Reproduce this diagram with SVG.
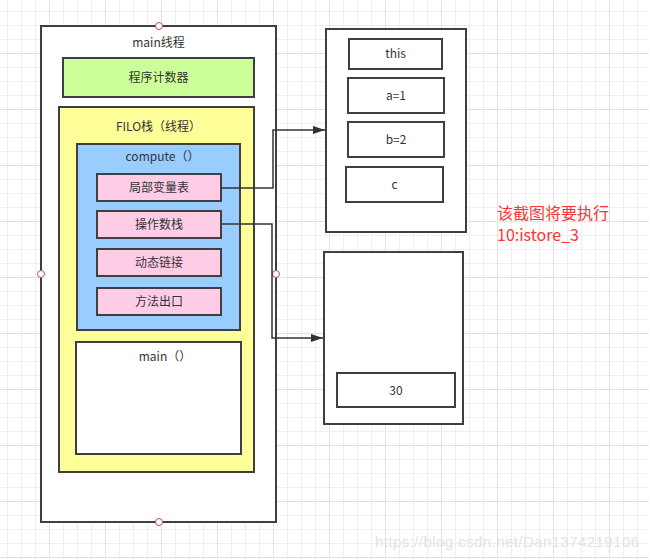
<svg xmlns="http://www.w3.org/2000/svg" width="649" height="559" viewBox="0 0 649 559">
<defs>
<pattern id="minor" x="7" y="-3" width="14" height="14" patternUnits="userSpaceOnUse">
<path d="M0.5 0V14M0 0.5H14" fill="none" stroke="#efefef" stroke-width="1"/>
</pattern>
<pattern id="major" x="49" y="-3" width="56" height="56" patternUnits="userSpaceOnUse">
<path d="M0.5 0V56M0 0.5H56" fill="none" stroke="#e2e2e2" stroke-width="1"/>
</pattern>
<marker id="arr" markerWidth="12" markerHeight="8" refX="12" refY="4" orient="auto" markerUnits="userSpaceOnUse">
<path d="M0 0L12 4L0 8Z" fill="#333"/>
</marker>
<style>
.box{stroke:#3f3f3f;stroke-width:2}
.t{font-family:"Noto Sans CJK SC","Microsoft YaHei",sans-serif;font-size:12px;fill:#333;text-anchor:middle}
.pt{fill:#fff;stroke:#b85450;stroke-width:1}
.conn{fill:none;stroke:#333;stroke-width:1.5}
.red{font-family:"Noto Sans CJK SC",sans-serif;font-size:16px;fill:#ff3333}
</style>
</defs>
<rect width="649" height="559" fill="#fff"/>
<rect width="649" height="559" fill="url(#minor)"/>
<rect width="649" height="559" fill="url(#major)"/>

<g id="main-thread">
<rect class="box" x="41" y="26" width="235" height="496" fill="#fff"/>
<text class="t" x="158.5" y="47">main线程</text>
</g>
<g id="pc">
<rect class="box" x="63" y="58" width="191" height="39" fill="#ccff99"/>
<text class="t" x="158.5" y="82">程序计数器</text>
</g>
<g id="filo">
<rect class="box" x="59" y="107" width="195" height="365" fill="#ffff99"/>
<text class="t" x="158.5" y="131">FILO栈（线程）</text>
</g>
<g id="compute">
<rect class="box" x="77" y="144" width="163" height="186" fill="#99ccff"/>
<text class="t" x="162.5" y="161">compute（）</text>
</g>
<g id="local-vars">
<rect class="box" x="97" y="174" width="124" height="27" fill="#ffcce6"/>
<text class="t" x="159" y="192">局部变量表</text>
</g>
<g id="operand-stack">
<rect class="box" x="97" y="211" width="124" height="27" fill="#ffcce6"/>
<text class="t" x="159" y="229">操作数栈</text>
</g>
<g id="dynamic-link">
<rect class="box" x="97" y="249" width="124" height="27" fill="#ffcce6"/>
<text class="t" x="159" y="267">动态链接</text>
</g>
<g id="method-exit">
<rect class="box" x="97" y="288" width="124" height="27" fill="#ffcce6"/>
<text class="t" x="159" y="306">方法出口</text>
</g>
<g id="main-frame">
<rect class="box" x="76" y="342" width="165" height="112" fill="#fff"/>
<text class="t" x="165" y="361">main（）</text>
</g>
<g id="points">
<circle class="pt" cx="159" cy="26" r="3.5"/>
<circle class="pt" cx="159" cy="522" r="3.5"/>
<circle class="pt" cx="41" cy="274" r="3.5"/>
<circle class="pt" cx="276" cy="274" r="3.5"/>
</g>

<g id="local-table">
<rect class="box" x="326" y="29" width="140" height="203" fill="#fff"/>
</g>
<g id="v-this">
<rect class="box" x="349" y="39" width="93" height="30" fill="#fff"/>
<text class="t" x="395.5" y="58">this</text>
</g>
<g id="v-a">
<rect class="box" x="348" y="78" width="96" height="35" fill="#fff"/>
<text class="t" x="396" y="100">a=1</text>
</g>
<g id="v-b">
<rect class="box" x="348" y="122" width="96" height="35" fill="#fff"/>
<text class="t" x="396" y="144">b=2</text>
</g>
<g id="v-c">
<rect class="box" x="346" y="167" width="97" height="35" fill="#fff"/>
<text class="t" x="394.5" y="189">c</text>
</g>

<g id="operand-box">
<rect class="box" x="324" y="252" width="139" height="172" fill="#fff"/>
</g>
<g id="v-30">
<rect class="box" x="337" y="373" width="118" height="34" fill="#fff"/>
<text class="t" x="396" y="395">30</text>
</g>

<g id="connectors">
<path class="conn" d="M221 188H273V130H325" marker-end="url(#arr)"/>
<path class="conn" d="M221 224H272V338H323" marker-end="url(#arr)"/>
</g>

<g id="note">
<text class="red" x="497" y="219">该截图将要执行</text>
<text class="red" x="497" y="241">10:istore_3</text>
</g>
<text x="375" y="547" font-family="Liberation Sans, Arial, sans-serif" font-size="15" fill="#e3e3e3" textLength="264">https://blog.csdn.net/Dan1374219106</text>
</svg>
